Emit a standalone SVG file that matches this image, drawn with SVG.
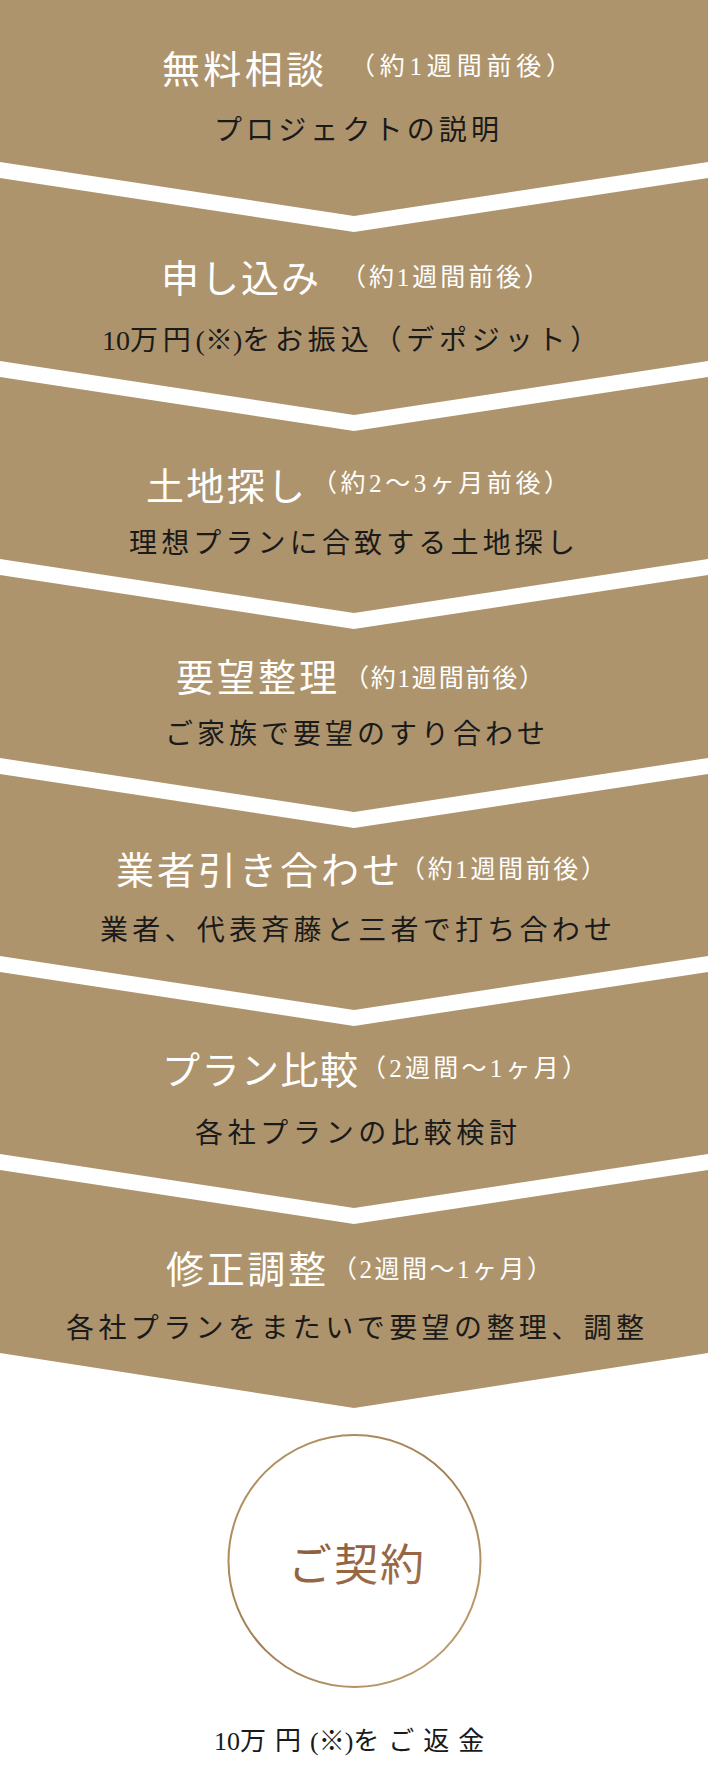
<svg xmlns="http://www.w3.org/2000/svg" width="708" height="1768" viewBox="0 0 708 1768">
<defs>
<style>
.box{fill:#ae946c}
.t{font-family:"Liberation Serif","Noto Sans CJK JP",serif;}
.title{font-size:38px;fill:#ffffff}
.sub{font-size:25px;fill:#ffffff}
.desc{font-size:28px;fill:#1a1a1a}
</style>
<linearGradient id="ring" x1="0" y1="0" x2="1" y2="1">
<stop offset="0" stop-color="#b89868"/>
<stop offset="0.5" stop-color="#a07e52"/>
<stop offset="1" stop-color="#c4a678"/>
</linearGradient>
<linearGradient id="brown" x1="0" y1="0" x2="1" y2="1">
<stop offset="0" stop-color="#8c5a3a"/>
<stop offset="1" stop-color="#a0714a"/>
</linearGradient>
</defs>
<rect width="708" height="1768" fill="#ffffff"/>

<g id="step1">
<polygon class="box" points="0,0 708,0 708,162 354,216 0,162"/>
<text class="t title" x="162" y="83" textLength="162" lengthAdjust="spacing">無料相談</text>
<text class="t sub" x="350" y="75" textLength="221" lengthAdjust="spacing">（約1週間前後）</text>
<text class="t desc" x="214" y="140" textLength="285" lengthAdjust="spacing">プロジェクトの説明</text>
</g>

<g id="step2">
<polygon class="box" points="0,178 354,232 708,178 708,361 354,415 0,361"/>
<text class="t title" x="161" y="292" textLength="158" lengthAdjust="spacing">申し込み</text>
<text class="t sub" x="341" y="286" textLength="208" lengthAdjust="spacing">（約1週間前後）</text>
<text class="t desc" x="102" y="350" letter-spacing="4.8"><tspan letter-spacing="0">10</tspan>万円<tspan letter-spacing="0">(※)</tspan>をお振込（デポジット）</text>
</g>

<g id="step3">
<polygon class="box" points="0,377 354,431 708,377 708,559 354,613 0,559"/>
<text class="t title" x="146" y="500" textLength="159" lengthAdjust="spacing">土地探し</text>
<text class="t sub" x="312" y="492" textLength="257" lengthAdjust="spacing">（約2〜3ヶ月前後）</text>
<text class="t desc" x="129" y="553" textLength="446" lengthAdjust="spacing">理想プランに合致する土地探し</text>
</g>

<g id="step4">
<polygon class="box" points="0,575 354,629 708,575 708,758 354,812 0,758"/>
<text class="t title" x="176" y="691" textLength="161" lengthAdjust="spacing">要望整理</text>
<text class="t sub" x="344" y="687" textLength="200" lengthAdjust="spacing">（約1週間前後）</text>
<text class="t desc" x="165" y="744" textLength="380" lengthAdjust="spacing">ご家族で要望のすり合わせ</text>
</g>

<g id="step5">
<polygon class="box" points="0,774 354,828 708,774 708,956 354,1010 0,956"/>
<text class="t title" x="116" y="884" textLength="284" lengthAdjust="spacing">業者引き合わせ</text>
<text class="t sub" x="400" y="878" textLength="206" lengthAdjust="spacing">（約1週間前後）</text>
<text class="t desc" x="100" y="940" textLength="512" lengthAdjust="spacing">業者、代表斉藤と三者で打ち合わせ</text>
</g>

<g id="step6">
<polygon class="box" points="0,972 354,1026 708,972 708,1154 354,1208 0,1154"/>
<text class="t title" x="162" y="1084" textLength="196" lengthAdjust="spacing">プラン比較</text>
<text class="t sub" x="361" y="1077" textLength="226" lengthAdjust="spacing">（2週間〜1ヶ月）</text>
<text class="t desc" x="195" y="1143" textLength="322" lengthAdjust="spacing">各社プランの比較検討</text>
</g>

<g id="step7">
<polygon class="box" points="0,1170 354,1224 708,1170 708,1353 354,1408 0,1353"/>
<text class="t title" x="166" y="1283" textLength="160" lengthAdjust="spacing">修正調整</text>
<text class="t sub" x="332" y="1278" textLength="220" lengthAdjust="spacing">（2週間〜1ヶ月）</text>
<text class="t desc" x="66" y="1338" textLength="578" lengthAdjust="spacing">各社プランをまたいで要望の整理、調整</text>
</g>

<g id="contract">
<circle cx="354.5" cy="1561" r="126" fill="#ffffff" stroke="url(#ring)" stroke-width="2"/>
<text class="t" x="288" y="1581" font-size="44" fill="url(#brown)" textLength="136" lengthAdjust="spacing">ご契約</text>
</g>

<g id="refund">
<text class="t" x="214" y="1750" font-size="26" fill="#1a1a1a" letter-spacing="9"><tspan letter-spacing="0">10</tspan>万円<tspan letter-spacing="0">(※)</tspan>をご返金</text>
</g>
</svg>
